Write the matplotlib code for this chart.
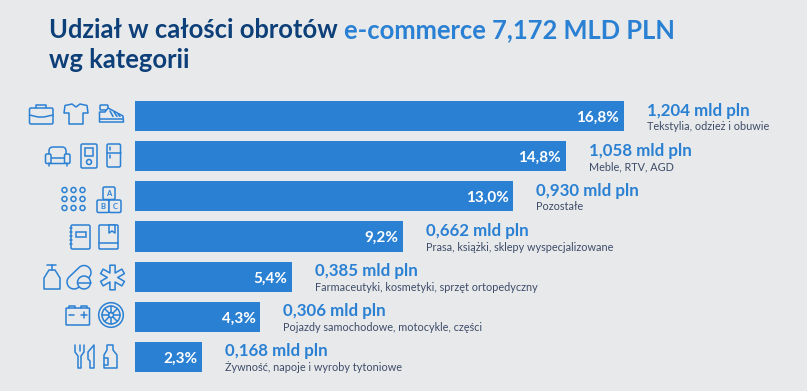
import numpy as np
import matplotlib
matplotlib.use("Agg")
import matplotlib.pyplot as plt
from matplotlib.patches import Circle, FancyBboxPatch, Polygon

plt.rcParams['font.family'] = ['Lato', 'Carlito', 'Noto Sans', 'DejaVu Sans']

BG = "#e8e9eb"
BLUE = "#2a80d3"
NAVY = "#0d3f78"
GREY = "#3d4c68"

shares = [16.8, 14.8, 13.0, 9.2, 5.4, 4.3, 2.3]
share_labels = ["16,8%", "14,8%", "13,0%", "9,2%", "5,4%", "4,3%", "2,3%"]
amounts = ["1,204 mld pln", "1,058 mld pln", "0,930 mld pln", "0,662 mld pln",
           "0,385 mld pln", "0,306 mld pln", "0,168 mld pln"]
categories = ["Tekstylia, odzież i obuwie", "Meble, RTV, AGD", "Pozostałe",
              "Prasa, książki, sklepy wyspecjalizowane",
              "Farmaceutyki, kosmetyki, sprzęt ortopedyczny",
              "Pojazdy samochodowe, motocykle, części",
              "Żywność, napoje i wyroby tytoniowe"]

W, H = 807, 391
fig = plt.figure(figsize=(W / 100, H / 100), dpi=100, facecolor=BG)

# --- bars ---
ax = fig.add_axes([135 / W, 1 - 372 / H, 489 / W, 271 / H])
ax.set_xlim(0, 16.8)
ax.set_ylim(6.375, -0.375)
ax.axis("off")
pos = np.arange(len(shares))
ax.barh(pos, shares, height=0.75, color=BLUE)
for i, v in enumerate(shares):
    ax.annotate(share_labels[i], (v, i), xytext=(-3.4, -1.2), textcoords="offset points",
                ha="right", va="center", color="white", fontsize=11, fontweight="bold")
    ax.annotate(amounts[i], (v, i), xytext=(16.6, 4), textcoords="offset points",
                ha="left", va="center", color=BLUE, fontsize=12.2, fontweight="bold",
                annotation_clip=False)
    ax.annotate(categories[i], (v, i), xytext=(16.6, -7.6), textcoords="offset points",
                ha="left", va="center", color=GREY, fontsize=7.85, annotation_clip=False)

# --- overlay in pixels: title + icons ---
ov = fig.add_axes([0, 0, 1, 1], facecolor="none")
ov.set_xlim(0, W)
ov.set_ylim(H, 0)
ov.axis("off")

ov.text(49, 30, "Udział w całości obrotów", color=NAVY, fontsize=18.4, fontweight="bold", va="center")
ov.text(344, 30, "e-commerce 7,172 MLD PLN", color=BLUE, fontsize=18.4, fontweight="bold", va="center")
ov.text(49, 60, "wg kategorii", color=NAVY, fontsize=18.4, fontweight="bold", va="center")

LW = 1.1
ST = dict(facecolor=BG, edgecolor=BLUE, linewidth=LW)


def rr(x0, y0, x1, y1, r=1.5):
    ov.add_patch(FancyBboxPatch((x0 + r, y0 + r), x1 - x0 - 2 * r, y1 - y0 - 2 * r,
                                boxstyle=f"round,pad={r},rounding_size={r}", **ST))


def ln(*pts):
    xs, ys = zip(*pts)
    ov.plot(xs, ys, color=BLUE, lw=LW, solid_capstyle="round", solid_joinstyle="round")


def circ(x, y, r):
    ov.add_patch(Circle((x, y), r, **ST))


def poly(*pts):
    ov.add_patch(Polygon(pts, closed=True, joinstyle="round", **ST))


def capsule(x0, y0, x1, y1, r):
    a = np.arctan2(y1 - y0, x1 - x0)
    t0 = np.linspace(a + np.pi / 2, a + 3 * np.pi / 2, 16)
    t1 = np.linspace(a - np.pi / 2, a + np.pi / 2, 16)
    pts = [(x0 + r * np.cos(t), y0 + r * np.sin(t)) for t in t0]
    pts += [(x1 + r * np.cos(t), y1 + r * np.sin(t)) for t in t1]
    poly(*pts)


def star(cx, cy, R, w):
    # six arms outline
    pts = []
    inner = w / np.tan(np.radians(30))
    for k in range(6):
        a = np.radians(90 + 60 * k)
        d = np.array([np.cos(a), np.sin(a)])
        n = np.array([-d[1], d[0]])
        c = np.array([cx, cy])
        pts.append(tuple(c + d * R - n * w))
        pts.append(tuple(c + d * R + n * w))
        pts.append(tuple(c + d * inner + n * w))
    poly(*pts)


# briefcase
ln((36, 108), (36, 105), (46, 105), (46, 108))
rr(29.5, 108, 53, 124)
ln((29.5, 115), (38, 117), (44, 117), (53, 115))
# t-shirt
poly((72, 104), (65, 105.5), (64, 113), (69, 113), (69, 124), (83, 124), (83, 113), (88, 113), (87, 105.5), (80, 104), (76, 107))
# shoe
rr(100, 105, 108, 110, 1)
poly((99.5, 112), (105, 112), (108, 108), (123, 116), (123.5, 122), (99.5, 122))
ln((100, 118.5), (123, 118.5))
ln((110, 111), (113, 116.5))
ln((114, 112), (117, 116.5))
ln((118, 114), (120, 116.5))
# sofa
rr(49, 147, 66, 160, 4)
ln((48.5, 163), (48.5, 165.5))
ln((66.5, 163), (66.5, 165.5))
rr(50, 158, 65, 163.5, 0.5)
rr(45.5, 154, 51, 163.5, 1.5)
rr(64.5, 154, 70, 163.5, 1.5)
# player
rr(81, 144, 97, 168, 1.5)
ov.add_patch(plt.Rectangle((85, 148), 8, 8, **ST))
circ(89, 162, 2.5)
# fridge
rr(107, 144, 120.5, 167, 1.5)
ln((107, 153), (120.5, 153))
ln((110, 147), (110, 150))
ln((110, 155), (110, 158))
# dots
for x in (64.5, 73.5, 82.5):
    for y in (190, 199, 208):
        circ(x, y, 2.5)
# blocks
for x0, y0, s in ((103, 187, "A"), (97, 200, "B"), (109, 200, "C")):
    rr(x0, y0, x0 + 12, y0 + 12.5, 1.5)
    ov.text(x0 + 6, y0 + 6.5, s, ha="center", va="center", color=BLUE, fontsize=5.5, fontweight="bold")
# notebook
rr(71, 225, 90, 249)
ov.add_patch(plt.Rectangle((76, 232), 10, 4.5, **ST))
for y in (228, 232, 236, 240, 244):
    ln((69.5, y), (72, y))
# book
rr(99, 225, 118, 249, 1)
ln((99, 243), (118, 243))
poly((109, 225), (109, 233), (112, 231), (115, 233), (115, 225))
# soap bottle
ln((47, 265), (56, 265))
ln((52, 265), (52, 270))
poly((49, 270), (55, 270), (60, 278), (60, 289), (44, 289), (44, 278))
# pills
capsule(74, 282, 84, 272.5, 7)
circ(84, 282.5, 6.5)
ln((77.5, 282.5), (90.5, 282.5))
# asterisk
star(112.5, 277.5, 12.3, 2.6)
# battery
rr(66, 308, 89.5, 325, 0.8)
ln((68.5, 308), (68.5, 306), (75, 306), (75, 308))
ln((81, 308), (81, 306), (87, 306), (87, 308))
ln((69, 314.5), (74, 314.5))
ln((81, 314.5), (87, 314.5))
ln((84, 311.5), (84, 317.5))
# wheel
circ(111, 315, 12.3)
circ(111, 315, 9)
for a in np.arange(0, 360, 45):
    ca, sa = np.cos(np.radians(a)), np.sin(np.radians(a))
    ln((111 + 2.5 * ca, 315 + 2.5 * sa), (111 + 9 * ca, 315 + 9 * sa))
circ(111, 315, 2.5)
# fork
ln((75, 345), (75, 352), (78, 356), (78, 368), (81, 368), (81, 356), (84, 352), (84, 345))
ln((79.5, 345), (79.5, 351))
# knife
poly((94, 345), (94, 368), (90, 368), (90, 361), (88, 359), (88, 352))
# bottle
poly((107, 345), (113, 345), (113, 350), (117, 355), (117, 368), (104, 368), (104, 355), (107, 350))
ln((104, 358), (108, 358), (108, 365), (104, 365))

fig.savefig("out.png", dpi=100, facecolor=BG)
